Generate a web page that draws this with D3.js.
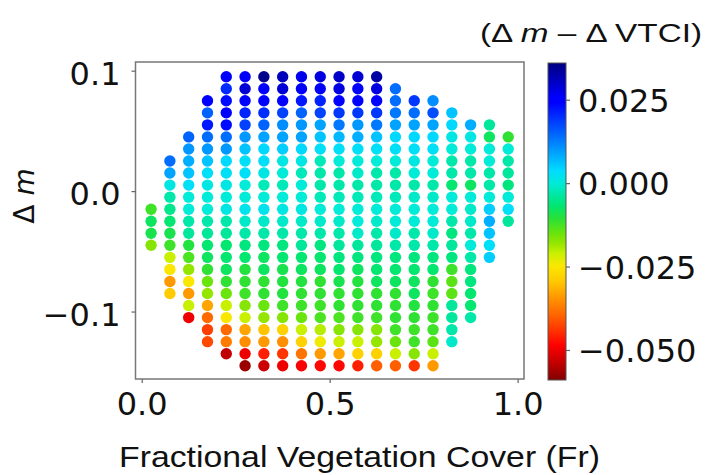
<!DOCTYPE html>
<html><head><meta charset="utf-8">
<script src="https://cdn.jsdelivr.net/npm/d3@7"></script>
<style>body{margin:0;background:#fff;} svg{display:block;}</style>
</head><body><svg id="c" width="706" height="475"></svg>
<script>
// ---- data ----
const frCols = [0.025,0.075,0.125,0.175,0.225,0.275,0.325,0.375,0.425,0.475,0.525,0.575,0.625,0.675,0.725,0.775,0.825,0.875,0.925,0.975];
const dmRows = [0.095,0.085,0.075,0.065,0.055,0.045,0.035,0.025,0.015,0.005,-0.005,-0.015,-0.025,-0.035,-0.045,-0.055,-0.065,-0.075,-0.085,-0.095,-0.105,-0.115,-0.125,-0.135,-0.145];
const colTopDm = [-0.015,0.025,0.045,0.075,0.095,0.095,0.095,0.095,0.095,0.095,0.095,0.095,0.095,0.085,0.075,0.075,0.065,0.055,0.055,0.045];
const diffByColumn = [
 [-0.012,-0.008,-0.009,-0.017],
 [0.014,0.009,0.001,-0.003,-0.005,-0.007,-0.009,-0.012,-0.021,-0.025,-0.034,-0.029],
 [0.015,0.010,0.008,0.006,0.003,0.000,0.000,-0.003,-0.004,-0.010,-0.013,-0.018,-0.025,-0.034,-0.021,-0.050],
 [0.025,0.015,0.022,0.014,0.010,0.006,0.003,0.001,0.000,0.000,-0.003,-0.004,-0.007,-0.008,-0.011,-0.015,-0.018,-0.033,-0.039,-0.043,-0.042],
 [0.026,0.020,0.023,0.025,0.023,0.014,0.010,0.004,0.003,0.001,0.000,0.001,-0.003,-0.004,-0.007,-0.007,-0.008,-0.011,-0.015,-0.021,-0.025,-0.039,-0.037,-0.054],
 [0.026,0.029,0.024,0.021,0.018,0.010,0.006,0.003,0.003,0.000,0.000,0.002,-0.001,-0.003,-0.006,-0.007,-0.010,-0.011,-0.012,-0.017,-0.021,-0.033,-0.035,-0.050,-0.057],
 [0.035,0.025,0.025,0.020,0.015,0.009,0.004,0.003,0.001,-0.002,0.000,0.002,-0.001,-0.003,-0.006,-0.008,-0.008,-0.011,-0.011,-0.015,-0.018,-0.030,-0.034,-0.046,-0.053],
 [0.031,0.029,0.024,0.018,0.011,0.009,0.005,0.001,0.000,-0.002,0.000,0.001,-0.001,-0.003,-0.006,-0.007,-0.009,-0.010,-0.010,-0.012,-0.017,-0.028,-0.035,-0.044,-0.050],
 [0.027,0.026,0.022,0.015,0.010,0.009,0.004,0.001,-0.002,0.000,0.000,0.001,-0.001,-0.003,-0.004,-0.007,-0.008,-0.010,-0.011,-0.012,-0.015,-0.021,-0.028,-0.038,-0.049],
 [0.028,0.026,0.021,0.018,0.009,0.006,0.003,-0.002,-0.003,-0.003,-0.002,0.000,-0.001,-0.003,-0.006,-0.007,-0.008,-0.011,-0.011,-0.012,-0.013,-0.020,-0.024,-0.034,-0.048],
 [0.030,0.028,0.024,0.019,0.013,0.007,0.003,0.000,-0.003,-0.003,-0.002,0.000,-0.001,-0.003,-0.004,-0.006,-0.007,-0.009,-0.011,-0.011,-0.013,-0.017,-0.021,-0.033,-0.048],
 [0.029,0.025,0.025,0.019,0.010,0.008,0.003,0.000,-0.001,-0.003,-0.002,0.000,0.000,-0.001,-0.004,-0.006,-0.008,-0.010,-0.011,-0.011,-0.012,-0.017,-0.021,-0.028,-0.046],
 [0.033,0.028,0.024,0.019,0.013,0.006,0.003,0.000,-0.003,-0.003,-0.002,0.000,-0.001,-0.003,-0.004,-0.006,-0.007,-0.008,-0.011,-0.011,-0.012,-0.017,-0.018,-0.028,-0.040],
 [0.014,0.014,0.013,0.009,0.004,0.003,0.000,-0.003,-0.003,-0.002,0.000,0.000,-0.001,-0.003,-0.006,-0.007,-0.008,-0.011,-0.011,-0.011,-0.012,-0.015,-0.021,-0.040],
 [0.019,0.014,0.009,0.004,0.003,0.001,0.000,-0.003,-0.001,0.000,0.000,-0.003,-0.003,-0.006,-0.007,-0.008,-0.008,-0.010,-0.011,-0.012,-0.012,-0.017,-0.044],
 [0.011,0.017,0.009,0.004,0.003,0.000,0.000,-0.003,-0.001,0.000,0.000,-0.001,-0.003,-0.006,-0.007,-0.011,-0.012,-0.011,-0.012,-0.012,-0.014,-0.021,-0.034],
 [0.006,0.004,0.001,0.000,-0.003,-0.003,-0.007,0.000,0.000,-0.003,-0.006,-0.004,-0.006,-0.012,-0.014,-0.014,-0.004,-0.004,-0.003,-0.001],
 [0.008,0.001,0.000,-0.003,-0.003,-0.008,0.000,-0.001,-0.001,-0.003,0.000,-0.003,-0.006,-0.006,-0.007,-0.007,-0.003],
 [-0.004,-0.008,0.000,0.000,-0.003,-0.003,0.000,0.005,0.008,0.006,0.003,0.005],
 [-0.011,0.000,-0.003,-0.004,-0.006,0.000,0.003,-0.004]
];
const xTicks = [0.0, 0.5, 1.0];
const yTicks = [-0.1, 0.0, 0.1];
const cbarTicks = [-0.050, -0.025, 0.000, 0.025];
const cbarMin = -0.059, cbarMax = 0.036;

// colormap (jet-like, reversed: high = dark blue)
const cmapPos = [0,0.11,0.125,0.34,0.38,0.41,0.45,0.49,0.54,0.57,0.60,0.64,0.69,0.74,0.79,0.84,0.89,0.95,1];
const cmapCol = ["#000080","#0000ff","#0000ff","#00dcff","#00ebd7","#00e8aa","#00e673","#28e137","#6ee40a","#96e600","#c8f000","#fae800","#ffc800","#ff9600","#ff6900","#ff3700","#ff0000","#be0000","#800000"];
const cmap = d3.scaleLinear().domain(cmapPos).range(cmapCol).interpolate(d3.interpolateRgb).clamp(true);
const colorOf = v => cmap((cbarMax - v) / (cbarMax - cbarMin));

const points = [];
diffByColumn.forEach((vals, c) => {
  const start = dmRows.findIndex(d => Math.abs(d - colTopDm[c]) < 1e-9);
  vals.forEach((v, i) => points.push({fr: frCols[c], dm: dmRows[start + i], v}));
});

// ---- drawing ----
const svg = d3.select('#c');
const L = 135.5, R = 524, T = 62, B = 379;
const x = d3.scaleLinear().domain([-0.0165, 1.017]).range([L, R]);
const y = d3.scaleLinear().domain([-0.156, 0.1072]).range([B, T]);
const tickFont = "'DejaVu Sans', sans-serif";
const fmtMinus = s => s.replace('-', '\u2212');

svg.append('g').selectAll('circle').data(points).join('circle')
  .attr('cx', d => x(d.fr)).attr('cy', d => y(d.dm)).attr('r', 5.7)
  .attr('fill', d => colorOf(d.v));

svg.append('rect').attr('x', L).attr('y', T).attr('width', R - L).attr('height', B - T)
  .attr('fill', 'none').attr('stroke', '#777').attr('stroke-width', 1.5);

const xAxis = svg.append('g').attr('transform', `translate(0,${B})`)
  .call(d3.axisBottom(x).tickValues(xTicks).tickFormat(d => fmtMinus(d3.format('.1f')(d))).tickSize(4).tickSizeOuter(0).tickPadding(9));
const yAxis = svg.append('g').attr('transform', `translate(${L},0)`)
  .call(d3.axisLeft(y).tickValues(yTicks).tickFormat(d => fmtMinus(d3.format('.1f')(d))).tickSize(4).tickSizeOuter(0).tickPadding(11));
[xAxis, yAxis].forEach(g => {
  g.select('.domain').remove();
  g.selectAll('.tick line').attr('stroke', '#666').attr('stroke-width', 1.2);
  g.selectAll('.tick text').attr('font-family', tickFont).attr('font-size', 32).attr('fill', '#111');
});
yAxis.selectAll('.tick text').attr('dy', '0.42em');

// axis labels
svg.append('text').attr('x', 119).attr('y', 467)
  .attr('font-family', "'Liberation Sans', Arial, sans-serif").attr('font-size', 29.5).attr('fill', '#111')
  .attr('textLength', 481).attr('lengthAdjust', 'spacingAndGlyphs')
  .text('Fractional Vegetation Cover (Fr)');

const yl = svg.append('text').attr('transform', 'translate(34,196) rotate(-90)')
  .attr('text-anchor', 'middle').attr('font-family', tickFont).attr('font-size', 28).attr('fill', '#111');
yl.append('tspan').text('\u0394 ');
yl.append('tspan').attr('font-style', 'italic').text('m');

// colorbar
const cbL = 548, cbR = 566, cbT = 63, cbB = 380;
const cy = d3.scaleLinear().domain([cbarMin, cbarMax]).range([cbB, cbT]);
const defs = svg.append('defs');
const grad = defs.append('linearGradient').attr('id', 'cbg').attr('x1', 0).attr('y1', 0).attr('x2', 0).attr('y2', 1);
cmapPos.forEach((p, i) => grad.append('stop').attr('offset', p).attr('stop-color', cmapCol[i]));
svg.append('rect').attr('x', cbL).attr('y', cbT).attr('width', cbR - cbL).attr('height', cbB - cbT)
  .attr('fill', 'url(#cbg)').attr('stroke', '#555').attr('stroke-width', 1);
const cAxis = svg.append('g').attr('transform', `translate(${cbR},0)`)
  .call(d3.axisRight(cy).tickValues(cbarTicks).tickFormat(d => fmtMinus(d3.format('.3f')(d))).tickSize(4).tickSizeOuter(0).tickPadding(8));
cAxis.select('.domain').remove();
cAxis.selectAll('.tick line').attr('stroke', '#666').attr('stroke-width', 1.2);
cAxis.selectAll('.tick text').attr('font-family', tickFont).attr('font-size', 32).attr('fill', '#111').attr('dy', '0.36em');

const ct = svg.append('text').attr('x', 480).attr('y', 42)
  .attr('font-family', "'Liberation Sans', Arial, sans-serif").attr('font-size', 26).attr('fill', '#111')
  .attr('textLength', 222).attr('lengthAdjust', 'spacingAndGlyphs');
ct.append('tspan').text('(\u0394 ');
ct.append('tspan').attr('font-style', 'italic').text('m');
ct.append('tspan').text(' \u2013 \u0394 VTCI)');
</script></body></html>
